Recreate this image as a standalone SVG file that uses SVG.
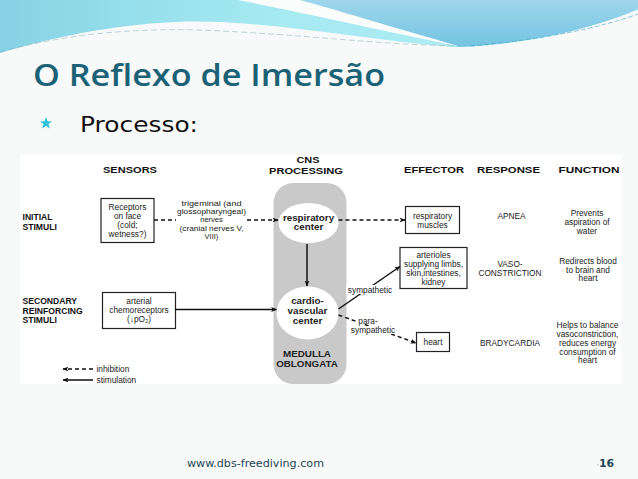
<svg xmlns="http://www.w3.org/2000/svg" width="638" height="479" viewBox="0 0 638 479">
<defs>
<linearGradient id="cy" x1="0" y1="0" x2="1" y2="0">
<stop offset="0" stop-color="#86d2e4"/><stop offset="0.4" stop-color="#a4e9f1"/><stop offset="1" stop-color="#b6eef4"/>
</linearGradient>
<linearGradient id="bl" x1="0" y1="0" x2="0" y2="1">
<stop offset="0" stop-color="#9ed6ec"/><stop offset="1" stop-color="#74c3e2"/>
</linearGradient>
<marker id="ah" viewBox="0 0 10 10" refX="9" refY="5" markerWidth="6" markerHeight="6" orient="auto" markerUnits="userSpaceOnUse">
<path d="M0,1 L10,5 L0,9 L2.5,5 Z" fill="#111"/>
</marker>
<style>
.t{font-family:"Liberation Sans",Arial,sans-serif;font-size:8.3px;fill:#222;text-anchor:middle}
.n{font-family:"Liberation Sans",Arial,sans-serif;font-size:7.5px;fill:#222;text-anchor:middle}
.h{font-family:"Liberation Sans",Arial,sans-serif;font-size:9.2px;font-weight:bold;fill:#111;text-anchor:middle}
.r{font-family:"Liberation Sans",Arial,sans-serif;font-size:8.6px;font-weight:bold;fill:#111}
.c{font-family:"Liberation Sans",Arial,sans-serif;font-size:9.8px;font-weight:bold;fill:#222;text-anchor:middle}
.box{fill:#fff;stroke:#222;stroke-width:1.2}
.ln{fill:none;stroke:#111;stroke-width:1.5}
.ds{stroke-dasharray:4,3}
.bg{fill:#fff}
</style>
</defs>
<rect width="638" height="479" fill="#f8f9f9"/>
<g id="header">
<path d="M0,0 H638 V10 C580,32 520,46 455,47 C360,40 260,18 175,22 C110,25 50,38 0,53 Z" fill="url(#cy)"/>
<path d="M250,0 C320,14 400,34 460,47 C540,42 600,26 638,9 V0 Z" fill="url(#bl)"/>
<path d="M238,0 C300,12 380,30 462,47 C395,28 330,8 300,0 Z" fill="#fbfdfd"/>
<path d="M0,52 C60,36 120,28 200,30 C300,34 380,45 460,46" fill="none" stroke="#7fa9b5" stroke-width="0.8" stroke-dasharray="6,3" opacity="0.6"/>
<path d="M470,46 C540,40 600,28 638,14" fill="none" stroke="#3b9cc0" stroke-width="0.8" stroke-dasharray="5,2" opacity="0.7"/>
</g>
<text x="33" y="86" font-family="'Open Sans','DejaVu Sans',sans-serif" font-size="30" font-weight="600" fill="#1b6277" textLength="352" lengthAdjust="spacingAndGlyphs">O Reflexo de Imersão</text>
<path id="star" d="M46,117 L47.6,121.3 L52,121.4 L48.5,124.1 L49.8,128.4 L46,125.9 L42.2,128.4 L43.5,124.1 L40,121.4 L44.4,121.3 Z" fill="#2dc2d6"/>
<text x="80" y="132" font-family="'DejaVu Sans',Verdana,sans-serif" font-size="21" fill="#111" textLength="118" lengthAdjust="spacingAndGlyphs">Processo:</text>
<rect x="20" y="155" width="601" height="229" fill="#ffffff"/>
<g id="column-headers">
<text class="h" x="130" y="173" textLength="54" lengthAdjust="spacingAndGlyphs">SENSORS</text>
<text class="h" x="308" y="163" textLength="23" lengthAdjust="spacingAndGlyphs">CNS</text>
<text class="h" x="306" y="173.5" textLength="74" lengthAdjust="spacingAndGlyphs">PROCESSING</text>
<text class="h" x="434" y="173" textLength="60" lengthAdjust="spacingAndGlyphs">EFFECTOR</text>
<text class="h" x="508.5" y="173" textLength="63" lengthAdjust="spacingAndGlyphs">RESPONSE</text>
<text class="h" x="589" y="173" textLength="61" lengthAdjust="spacingAndGlyphs">FUNCTION</text>
</g>
<g id="row-labels">
<text class="r" x="22.5" y="220">INITIAL</text>
<text class="r" x="22.5" y="230">STIMULI</text>
<text class="r" x="22.5" y="304">SECONDARY</text>
<text class="r" x="22.5" y="313.5">REINFORCING</text>
<text class="r" x="22.5" y="323">STIMULI</text>
</g>
<g id="medulla">
<rect x="273.5" y="183" width="73" height="201" rx="20" fill="#c9c9c9"/>
<text class="c" x="307" y="357">MEDULLA</text>
<text class="c" x="307" y="367">OBLONGATA</text>
</g>
<g id="receptors">
<rect class="box" x="101" y="198.5" width="53" height="44"/>
<text class="t" x="127.5" y="210">Receptors</text>
<text class="t" x="127.5" y="219">on face</text>
<text class="t" x="127.5" y="227.5">(cold;</text>
<text class="t" x="127.5" y="236.5">wetness?)</text>
</g>
<g id="nerves">
<text class="n" x="211.5" y="206" textLength="60" lengthAdjust="spacingAndGlyphs">trigeminal (and</text>
<text class="n" x="211.5" y="214.2" textLength="69" lengthAdjust="spacingAndGlyphs">glossopharyngeal)</text>
<text class="n" x="211.5" y="222.4">nerves</text>
<text class="n" x="211.5" y="230.6" textLength="64" lengthAdjust="spacingAndGlyphs">(cranial nerves V,</text>
<text class="n" x="211.5" y="238.8">VIII)</text>
</g>
<g id="respiratory-center">
<ellipse cx="308.5" cy="223" rx="30" ry="20" fill="#fff"/>
<text class="c" x="308.5" y="220.5">respiratory</text>
<text class="c" x="308.5" y="230">center</text>
</g>
<g id="cardiovascular-center">
<ellipse cx="307.5" cy="313" rx="31" ry="26.5" fill="#fff"/>
<text class="c" x="307.5" y="304">cardio-</text>
<text class="c" x="307.5" y="314">vascular</text>
<text class="c" x="307.5" y="324">center</text>
</g>
<g id="chemoreceptors">
<rect class="box" x="102.5" y="292.5" width="73" height="36"/>
<text class="t" x="139" y="304">arterial</text>
<text class="t" x="139" y="313">chemoreceptors</text>
<text class="t" x="139" y="322">(↓pO₂)</text>
</g>
<g id="respiratory-muscles">
<rect class="box" x="405.5" y="206.5" width="54" height="27"/>
<text class="t" x="432.5" y="219">respiratory</text>
<text class="t" x="432.5" y="228">muscles</text>
</g>
<g id="arterioles">
<rect class="box" x="400" y="247.5" width="67" height="41"/>
<text class="t" x="433.5" y="257.5">arterioles</text>
<text class="t" x="433.5" y="266.5">supplying limbs,</text>
<text class="t" x="433.5" y="275.5">skin,intestines,</text>
<text class="t" x="433.5" y="284.5">kidney</text>
</g>
<g id="heart">
<rect class="box" x="416.5" y="332.5" width="33" height="19"/>
<text class="t" x="433" y="345">heart</text>
</g>
<g id="responses">
<text class="t" x="511.5" y="219">APNEA</text>
<text class="t" x="510" y="267">VASO-</text>
<text class="t" x="510" y="276">CONSTRICTION</text>
<text class="t" x="510" y="345.5">BRADYCARDIA</text>
</g>
<g id="functions">
<text class="t" x="587" y="216">Prevents</text>
<text class="t" x="587" y="225">aspiration of</text>
<text class="t" x="587" y="234">water</text>
<text class="t" x="588" y="264">Redirects blood</text>
<text class="t" x="588" y="272.5">to brain and</text>
<text class="t" x="588" y="281">heart</text>
<text class="t" x="587.5" y="328">Helps to balance</text>
<text class="t" x="587.5" y="337">vasoconstriction,</text>
<text class="t" x="587.5" y="346">reduces energy</text>
<text class="t" x="587.5" y="354.5">consumption of</text>
<text class="t" x="587.5" y="363">heart</text>
</g>
<g id="connectors">
<line class="ln ds" x1="154" y1="220" x2="176" y2="220"/>
<line class="ln ds" x1="247" y1="220" x2="278" y2="220" marker-end="url(#ah)"/>
<line class="ln ds" x1="338.5" y1="220" x2="405" y2="220" marker-end="url(#ah)"/>
<line class="ln" x1="307" y1="244" x2="307" y2="286" marker-end="url(#ah)"/>
<line class="ln" x1="175.5" y1="309.5" x2="276.5" y2="309.5" marker-end="url(#ah)"/>
<line class="ln" x1="338.5" y1="309" x2="400" y2="266.5" marker-end="url(#ah)"/>
<line class="ln ds" x1="338.5" y1="315" x2="416" y2="343" marker-end="url(#ah)"/>
<rect class="bg" x="346" y="285" width="48" height="9"/>
<text class="t" x="370" y="292.5">sympathetic</text>
<rect class="bg" x="358" y="318" width="20" height="6"/>
<rect class="bg" x="349" y="326" width="48" height="8"/>
<text class="t" x="368" y="324">para-</text>
<text class="t" x="373" y="333">sympathetic</text>
</g>
<g id="legend">
<line class="ln ds" x1="93" y1="369" x2="63" y2="369" marker-end="url(#ah)"/>
<line class="ln" x1="93" y1="380" x2="63" y2="380" marker-end="url(#ah)"/>
<text class="t" x="96.5" y="372" style="text-anchor:start">inhibition</text>
<text class="t" x="96.5" y="383" style="text-anchor:start">stimulation</text>
</g>
<g id="footer" font-family="'DejaVu Sans',Tahoma,sans-serif" fill="#1e4656">
<text x="185" y="467" font-size="11" textLength="139" lengthAdjust="spacingAndGlyphs"><tspan font-size="6">·</tspan>www.dbs-freediving.com</text>
<text x="597" y="467" font-size="11" font-weight="bold"><tspan font-size="6" font-weight="normal">·</tspan>16</text>
</g>
</svg>
